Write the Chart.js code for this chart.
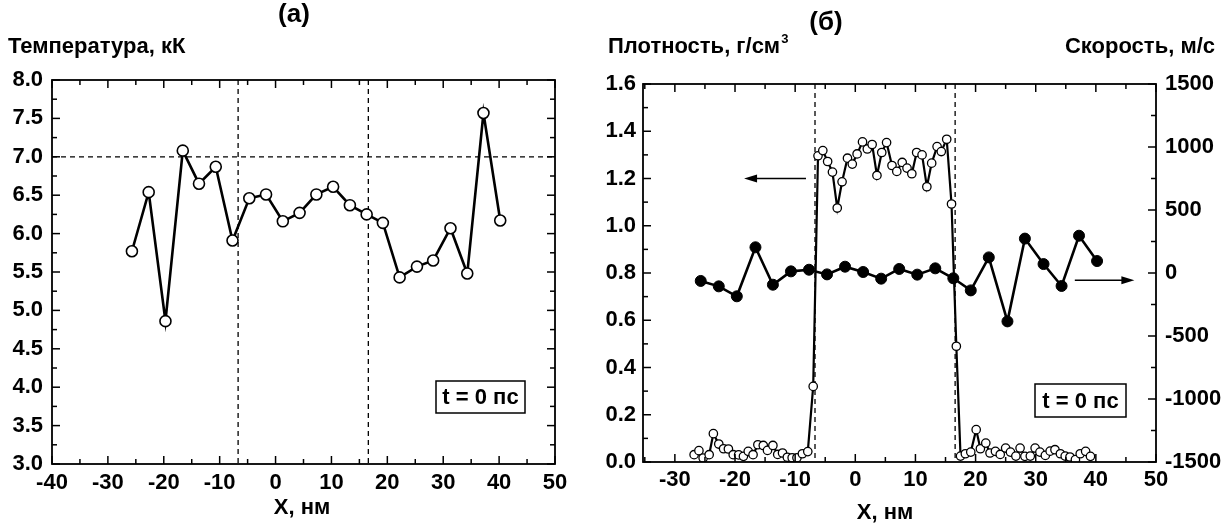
<!DOCTYPE html>
<html>
<head>
<meta charset="utf-8">
<script src="https://cdn.jsdelivr.net/npm/chart.js@4.4.1/dist/chart.umd.min.js"></script>
<style>
  body { margin: 0; background: #fff; width: 1223px; height: 524px; overflow: hidden; position: relative; }
  canvas { position: absolute; top: 0; }
  #chart-a { left: 0; }
  #chart-b { left: 590px; }
</style>
</head>
<body>
<canvas id="chart-a" width="590" height="524"></canvas>
<canvas id="chart-b" width="633" height="524"></canvas>
<script>
  // Данные
  const xNodes = [-25.7, -22.7, -19.7, -16.6, -13.7, -10.7, -7.7, -4.7, -1.7, 1.3, 4.3, 7.3,
    10.3, 13.3, 16.3, 19.2, 22.2, 25.3, 28.2, 31.3, 34.3, 37.2, 40.2];
  const temperature = [5.77, 6.54, 4.86, 7.08, 6.65, 6.87, 5.91, 6.46, 6.51, 6.16, 6.27, 6.51,
    6.61, 6.37, 6.25, 6.14, 5.43, 5.57, 5.65, 6.07, 5.48, 7.57, 6.17];
  const velocity = [-63, -106, -185, 204, -93, 13, 26, -11, 50, 8, -45, 32,
    -13, 37, -42, -138, 124, -384, 273, 71, -103, 296, 95];

  const densityX = [-26.8, -26.0, -25.3, -24.3, -23.6, -22.7, -21.9, -21.1, -20.3, -19.4, -18.6, -17.8,
    -17.0, -16.2, -15.3, -14.6, -13.7, -12.9, -12.1, -11.3, -10.5, -9.7, -8.8, -7.9, -7.0,
    -6.2, -5.4, -4.6, -3.8, -3.0, -2.2, -1.3, -0.5, 0.3, 1.2, 2.0, 2.8, 3.6, 4.4, 5.2, 6.1, 6.9,
    7.8, 8.6, 9.4, 10.2, 11.1, 11.9, 12.7, 13.6, 14.3, 15.2, 16.0,
    16.8,
    17.5, 18.3, 19.2, 20.1, 20.8, 21.7, 22.4, 23.3, 24.1, 25.0, 25.8, 26.7, 27.4, 28.2, 29.1,
    29.9, 30.7, 31.6, 32.4, 33.2, 34.1, 34.9, 35.7, 36.6, 37.4, 38.3, 39.1];
  const density = [0.031, 0.048, 0.017, 0.031, 0.12, 0.076, 0.056, 0.055, 0.031, 0.030, 0.024, 0.045,
    0.031, 0.073, 0.070, 0.049, 0.070, 0.032, 0.038, 0.020, 0.018, 0.018, 0.035, 0.044, 0.32,
    1.296, 1.318, 1.272, 1.227, 1.075, 1.186, 1.286, 1.261, 1.304, 1.355, 1.325, 1.344, 1.213, 1.31, 1.352, 1.255, 1.230,
    1.268, 1.244, 1.220, 1.310, 1.30, 1.165, 1.265, 1.335, 1.314, 1.366, 1.092,
    0.49,
    0.025, 0.035, 0.042, 0.137, 0.056, 0.080, 0.038, 0.045, 0.032, 0.059, 0.042, 0.025, 0.059, 0.024, 0.025,
    0.059, 0.042, 0.028, 0.046, 0.052, 0.035, 0.025, 0.021, 0.010, 0.035, 0.045, 0.024];

  // Подписи осей
  const ticksXa = [-40, -30, -20, -10, 0, 10, 20, 30, 40, 50];
  const ticksXb = [-30, -20, -10, 0, 10, 20, 30, 40, 50];
  const ticksT = [3.0, 3.5, 4.0, 4.5, 5.0, 5.5, 6.0, 6.5, 7.0, 7.5, 8.0];
  const ticksRho = [0.0, 0.2, 0.4, 0.6, 0.8, 1.0, 1.2, 1.4, 1.6];
  const ticksV = [-1500, -1000, -500, 0, 500, 1000, 1500];
  const boundaries = [-6.7, 16.6];

  const FONT = '"Liberation Sans", Arial, sans-serif';
  Chart.defaults.font.family = FONT;
  Chart.defaults.font.weight = 'bold';
  Chart.defaults.font.size = 22;
  Chart.defaults.color = '#000';

  // промежуточные (малые) деления
  function minors(list, min, max) {
    const step = list[1] - list[0];
    const out = [];
    for (let v = list[0] - step / 2; v < max + 1e-9; v += step) {
      if (v >= min - 1e-9) out.push(v);
    }
    return out;
  }

  function axis(list, min, max, size, pad, pos, fmt) {
    return {
      type: 'linear', position: pos, min: min, max: max,
      grid: { display: false, drawTicks: false },
      border: { display: false },
      ticks: { padding: pad, autoSkip: false, maxRotation: 0, callback: fmt || (v => v) },
      afterBuildTicks: s => { s.ticks = list.map(v => ({ value: v })); },
      afterFit: s => { if (s.isHorizontal()) s.height = size; else s.width = size; }
    };
  }

  function line(ctx, x1, y1, x2, y2) {
    ctx.beginPath(); ctx.moveTo(x1, y1); ctx.lineTo(x2, y2); ctx.stroke();
  }

  function arrow(ctx, x1, y, x2) {
    const dir = Math.sign(x2 - x1);
    ctx.lineWidth = 1.6;
    line(ctx, x1, y, x2 - dir * 8, y);
    ctx.beginPath();
    ctx.moveTo(x2, y);
    ctx.lineTo(x2 - dir * 13, y - 4);
    ctx.lineTo(x2 - dir * 13, y + 4);
    ctx.closePath();
    ctx.fill();
  }

  // рамка, засечки внутрь, пунктиры и надписи
  function decor(o) {
    return {
      id: 'decor',
      beforeDatasetsDraw(chart) {
        const { ctx, chartArea: a, scales } = chart;
        ctx.save();
        ctx.strokeStyle = '#000';
        ctx.lineWidth = 1.3;
        ctx.setLineDash([5, 4]);
        boundaries.forEach(v => {
          const p = scales.x.getPixelForValue(v);
          line(ctx, p, a.top, p, a.bottom);
        });
        (o.hLines || []).forEach(v => {
          const p = scales.y.getPixelForValue(v);
          line(ctx, a.left, p, a.right, p);
        });
        ctx.restore();
      },
      afterDatasetsDraw(chart) {
        const { ctx, chartArea: a, scales } = chart;
        ctx.save();
        ctx.strokeStyle = '#000';
        ctx.fillStyle = '#000';
        ctx.lineWidth = 1.8;
        ctx.strokeRect(a.left, a.top, a.width, a.height);
        ctx.lineWidth = 1.5;
        const xs = scales.x;
        o.xMajor.forEach(v => { const p = xs.getPixelForValue(v); line(ctx, p, a.bottom, p, a.bottom - 8); line(ctx, p, a.top, p, a.top + 8); });
        minors(o.xMajor, xs.min, xs.max).forEach(v => { const p = xs.getPixelForValue(v); line(ctx, p, a.bottom, p, a.bottom - 5); line(ctx, p, a.top, p, a.top + 5); });
        const ly = scales.y, ry = scales[o.rightScale];
        o.yMajor.forEach(v => { const p = ly.getPixelForValue(v); line(ctx, a.left, p, a.left + 8, p); });
        minors(o.yMajor, ly.min, ly.max).forEach(v => { const p = ly.getPixelForValue(v); line(ctx, a.left, p, a.left + 5, p); });
        o.rMajor.forEach(v => { const p = ry.getPixelForValue(v); line(ctx, a.right, p, a.right - 8, p); });
        minors(o.rMajor, ry.min, ry.max).forEach(v => { const p = ry.getPixelForValue(v); line(ctx, a.right, p, a.right - 5, p); });

        // рамка "t = 0 пс"
        const bx = a.right - o.box.right - o.box.w, by = a.bottom - o.box.bottom - o.box.h;
        ctx.fillStyle = '#fff';
        ctx.fillRect(bx, by, o.box.w, o.box.h);
        ctx.lineWidth = 1.5;
        ctx.strokeRect(bx, by, o.box.w, o.box.h);
        ctx.fillStyle = '#000';
        ctx.font = 'bold 22px ' + FONT;
        ctx.textAlign = 'center';
        ctx.textBaseline = 'middle';
        ctx.fillText('t = 0 пс', bx + o.box.w / 2, by + o.box.h / 2 + 1);

        (o.arrows || []).forEach(ar => {
          const s = scales[ar.scale];
          arrow(ctx, xs.getPixelForValue(ar.from), s.getPixelForValue(ar.y), xs.getPixelForValue(ar.to));
        });
        ctx.restore();
      },
      afterDraw(chart) {
        const ctx = chart.ctx;
        ctx.save();
        ctx.fillStyle = '#000';
        ctx.textBaseline = 'middle';
        o.texts.forEach(t => {
          ctx.font = 'bold ' + t.size + 'px ' + FONT;
          ctx.textAlign = t.align;
          ctx.fillText(t.text, t.x, t.y);
          if (t.sup) {
            const w = ctx.measureText(t.text).width;
            ctx.font = 'bold 13px ' + FONT;
            ctx.textAlign = 'left';
            ctx.fillText(t.sup, t.x + w + 1, t.y - 8);
          }
        });
        ctx.restore();
      }
    };
  }

  // (а) температура
  new Chart(document.getElementById('chart-a'), {
    type: 'line',
    data: {
      datasets: [{
        data: xNodes.map((x, i) => ({ x: x, y: temperature[i] })),
        borderColor: '#000', borderWidth: 2.6, tension: 0,
        pointRadius: 5.5, pointBackgroundColor: '#fff', pointBorderColor: '#000', pointBorderWidth: 1.6
      }]
    },
    options: {
      responsive: false, animation: false,
      layout: { padding: { left: 0, top: 80, right: 35, bottom: 0 } },
      plugins: { legend: { display: false }, tooltip: { enabled: false } },
      scales: {
        x: axis(ticksXa, -40, 50, 60, 6, 'bottom'),
        y: axis(ticksT, 3, 8, 52, 9, 'left', v => v.toFixed(1))
      }
    },
    plugins: [decor({
      hLines: [7.0],
      xMajor: ticksXa, yMajor: ticksT, rMajor: ticksT, rightScale: 'y',
      box: { right: 30, bottom: 51, w: 89, h: 32 },
      texts: [
        { text: 'Температура, кК', x: 8, y: 47, size: 22, align: 'left' },
        { text: '(а)', x: 294, y: 15, size: 26, align: 'center' },
        { text: 'X, нм', x: 302, y: 508, size: 22, align: 'center' }
      ]
    })]
  });

  // (б) плотность и скорость
  new Chart(document.getElementById('chart-b'), {
    type: 'line',
    data: {
      datasets: [{
        data: densityX.map((x, i) => ({ x: x, y: density[i] })),
        yAxisID: 'y',
        borderColor: '#000', borderWidth: 2.2, tension: 0,
        pointRadius: 4.2, pointBackgroundColor: '#fff', pointBorderColor: '#000', pointBorderWidth: 1.3
      }, {
        data: xNodes.map((x, i) => ({ x: x, y: velocity[i] })),
        yAxisID: 'y2',
        borderColor: '#000', borderWidth: 2.6, tension: 0,
        pointRadius: 5.5, pointBackgroundColor: '#000', pointBorderColor: '#000', pointBorderWidth: 1
      }]
    },
    options: {
      responsive: false, animation: false,
      layout: { padding: { left: 0, top: 84, right: 0, bottom: 0 } },
      plugins: { legend: { display: false }, tooltip: { enabled: false } },
      scales: {
        x: axis(ticksXb, -35.3, 50, 62, 5, 'bottom'),
        y: axis(ticksRho, 0, 1.6, 53, 7, 'left', v => v.toFixed(1)),
        y2: axis(ticksV, -1500, 1500, 67, 9, 'right')
      }
    },
    plugins: [decor({
      xMajor: ticksXb, yMajor: ticksRho, rMajor: ticksV, rightScale: 'y2',
      box: { right: 30, bottom: 45, w: 91, h: 33 },
      arrows: [
        { scale: 'y', y: 1.2, from: -8.2, to: -18.5 },
        { scale: 'y2', y: -58, from: 36.5, to: 46.4 }
      ],
      texts: [
        { text: 'Плотность, г/см', sup: '3', x: 18, y: 47, size: 22, align: 'left' },
        { text: '(б)', x: 236, y: 23, size: 26, align: 'center' },
        { text: 'Скорость, м/с', x: 625, y: 47, size: 22, align: 'right' },
        { text: 'X, нм', x: 295, y: 513, size: 22, align: 'center' }
      ]
    })]
  });
</script>
</body>
</html>
